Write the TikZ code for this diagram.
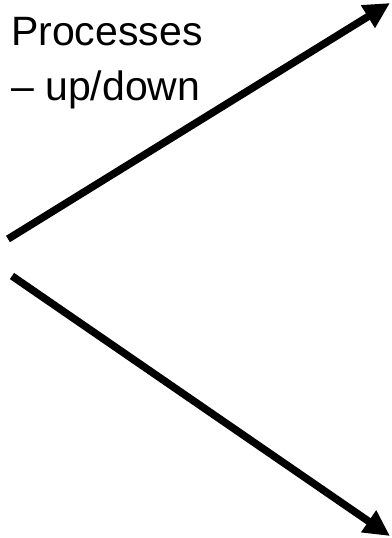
\documentclass[tikz,border=0pt]{standalone}
\usepackage{fontspec}
\setmainfont{Liberation Sans}
\usetikzlibrary{arrows.meta}

\begin{document}
\begin{tikzpicture}[x=1pt,y=-1pt]
    \useasboundingbox (0,0) rectangle (391,538);
    \tikzset{flow/.style={line width=7.5pt, -{Triangle[length=26pt,width=25pt]}}}

    \node[anchor=base west, inner sep=0, align=left,
          font=\fontsize{41}{55}\selectfont] (lbl) at (11,100)
          {Processes\\– up/down};

    \coordinate (upstart) at (8,239);
    \coordinate (upend) at (390,3);
    \coordinate (downstart) at (12,276);
    \coordinate (downend) at (390,536);

    \draw[flow] (upstart) -- (upend);
    \draw[flow] (downstart) -- (downend);
\end{tikzpicture}
\end{document}
